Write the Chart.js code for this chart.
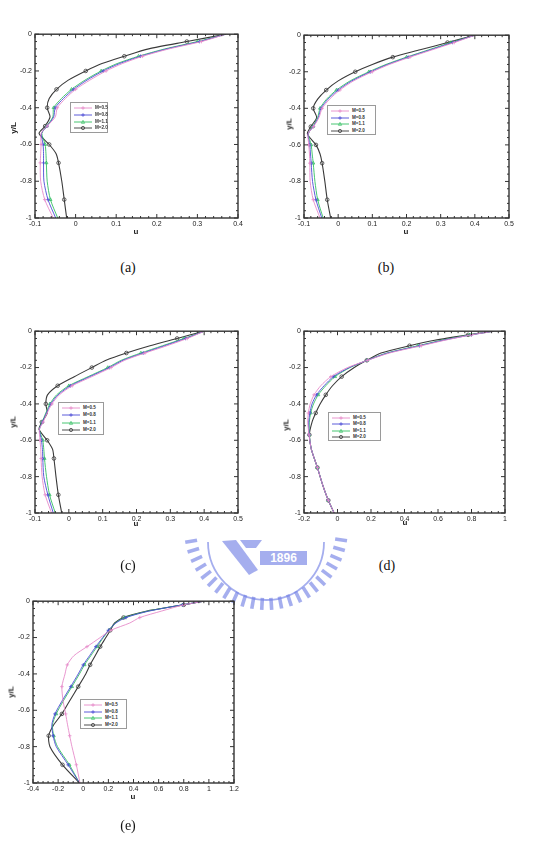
<!DOCTYPE html>
<html>
<head>
<meta charset="utf-8">
<script src="https://cdn.jsdelivr.net/npm/chart.js@4/dist/chart.umd.min.js"></script>
<style>
  body { margin: 0; background: #fff; width: 540px; height: 842px; position: relative; overflow: hidden;
         font-family: "Liberation Sans", Arial, sans-serif; }
  .wrap { position: absolute; }
  .cap { position: absolute; font-family: "Liberation Serif", "Times New Roman", serif; font-size: 14px;
         color: #111; transform: translate(-50%, -50%); }
  .ytl { position: absolute; font-size: 8px; font-weight: bold; color: #222; white-space: nowrap;
         transform: translate(-50%, -50%) rotate(-90deg); }
  .xtl { position: absolute; font-size: 8px; font-weight: bold; color: #222; transform: translate(-50%, -50%); }
  .leg { position: absolute; border: 1px solid #9a9a9a; background: #fff; box-sizing: border-box; }
  .row { position: absolute; left: 0; height: 6px; display: flex; align-items: center; }
  .row span { font-size: 4.6px; font-weight: bold; color: #333; margin-left: 3px; line-height: 6px; }
</style>
</head>
<body>
<svg id="wm" width="540" height="842" style="position:absolute;left:0;top:0"></svg>
<script>
// series shared by all five panels
const seriesNames = ["M=0.5", "M=0.8", "M=1.1", "M=2.0"];
const seriesColors = ["#e68bc9", "#4b4bd6", "#33c062", "#3a3a3a"];
const seriesMarkers = ["cross", "cross", "triangle", "circle"];

// (a), (b), (c) share one y/L grid
const yABC = [0, -0.04, -0.08, -0.12, -0.16, -0.2, -0.25, -0.3, -0.35, -0.4, -0.45, -0.5, -0.54, -0.6, -0.65, -0.7, -0.8, -0.9, -1];

// (a)
const uA05 = [0.37, 0.31, 0.23, 0.165, 0.115, 0.075, 0.035, 0.0, -0.025, -0.045, -0.05, -0.07, -0.085, -0.085, -0.086, -0.087, -0.086, -0.076, -0.055];
const uA08 = [0.37, 0.305, 0.225, 0.16, 0.108, 0.068, 0.028, -0.005, -0.03, -0.05, -0.054, -0.07, -0.084, -0.08, -0.079, -0.079, -0.078, -0.068, -0.049];
const uA11 = [0.37, 0.30, 0.22, 0.155, 0.102, 0.063, 0.023, -0.01, -0.035, -0.054, -0.056, -0.071, -0.083, -0.075, -0.073, -0.072, -0.070, -0.062, -0.044];
const uA20 = [0.37, 0.274, 0.18, 0.12, 0.065, 0.025, -0.018, -0.047, -0.065, -0.07, -0.063, -0.075, -0.09, -0.065, -0.048, -0.042, -0.034, -0.028, -0.022];
const xTicksA = [-0.1, 0, 0.1, 0.2, 0.3, 0.4];

// (b)
const uB05 = [0.40, 0.34, 0.275, 0.21, 0.15, 0.10, 0.045, 0.005, -0.025, -0.047, -0.056, -0.072, -0.088, -0.086, -0.084, -0.083, -0.082, -0.073, -0.053];
const uB08 = [0.40, 0.335, 0.27, 0.205, 0.145, 0.095, 0.04, 0.0, -0.03, -0.05, -0.058, -0.073, -0.088, -0.083, -0.081, -0.079, -0.075, -0.065, -0.048];
const uB11 = [0.40, 0.33, 0.265, 0.20, 0.14, 0.09, 0.035, -0.005, -0.034, -0.053, -0.06, -0.074, -0.087, -0.079, -0.076, -0.073, -0.068, -0.06, -0.044];
const uB20 = [0.40, 0.32, 0.24, 0.16, 0.10, 0.05, 0.0, -0.035, -0.06, -0.073, -0.063, -0.08, -0.09, -0.065, -0.053, -0.047, -0.039, -0.032, -0.022];
const xTicksB = [-0.1, 0, 0.1, 0.2, 0.3, 0.4, 0.5];

// (c)
const uC05 = [0.40, 0.35, 0.29, 0.225, 0.165, 0.125, 0.068, 0.01, -0.028, -0.05, -0.064, -0.076, -0.087, -0.085, -0.083, -0.082, -0.079, -0.07, -0.051];
const uC08 = [0.40, 0.345, 0.283, 0.22, 0.16, 0.12, 0.062, 0.005, -0.032, -0.053, -0.066, -0.078, -0.087, -0.081, -0.078, -0.077, -0.074, -0.062, -0.046];
const uC11 = [0.40, 0.34, 0.277, 0.213, 0.155, 0.115, 0.057, 0.0, -0.036, -0.056, -0.068, -0.079, -0.087, -0.077, -0.074, -0.072, -0.066, -0.057, -0.04];
const uC20 = [0.40, 0.32, 0.24, 0.17, 0.11, 0.068, 0.016, -0.033, -0.063, -0.068, -0.064, -0.08, -0.088, -0.064, -0.048, -0.044, -0.038, -0.031, -0.021];
const xTicksC = [-0.1, 0, 0.1, 0.2, 0.3, 0.4, 0.5];

// (d)
const yD = [0, -0.02, -0.05, -0.08, -0.12, -0.16, -0.2, -0.25, -0.3, -0.35, -0.4, -0.45, -0.5, -0.57, -0.65, -0.75, -0.85, -0.93, -1];
const uD05 = [0.93, 0.80, 0.64, 0.50, 0.31, 0.18, 0.06, -0.04, -0.10, -0.14, -0.163, -0.174, -0.178, -0.17, -0.156, -0.12, -0.087, -0.055, -0.02];
const uD08 = [0.93, 0.80, 0.63, 0.49, 0.30, 0.178, 0.07, -0.025, -0.08, -0.125, -0.152, -0.165, -0.172, -0.169, -0.156, -0.12, -0.087, -0.055, -0.02];
const uD11 = [0.93, 0.79, 0.62, 0.48, 0.295, 0.177, 0.075, -0.015, -0.07, -0.115, -0.143, -0.16, -0.168, -0.168, -0.156, -0.12, -0.087, -0.055, -0.02];
const uD20 = [0.93, 0.78, 0.58, 0.43, 0.26, 0.175, 0.10, 0.025, -0.03, -0.07, -0.104, -0.13, -0.152, -0.168, -0.156, -0.12, -0.087, -0.055, -0.02];
const xTicksD = [-0.2, 0, 0.2, 0.4, 0.6, 0.8, 1];

// (e)
const yE = [0, -0.02, -0.055, -0.09, -0.12, -0.16, -0.2, -0.25, -0.3, -0.35, -0.4, -0.47, -0.55, -0.62, -0.68, -0.74, -0.8, -0.9, -1];
const uE05 = [0.96, 0.80, 0.62, 0.45, 0.37, 0.22, 0.135, 0.03, -0.075, -0.127, -0.145, -0.17, -0.16, -0.14, -0.125, -0.108, -0.09, -0.055, -0.026];
const uE08 = [0.96, 0.79, 0.52, 0.34, 0.26, 0.20, 0.155, 0.10, 0.05, 0.0, -0.04, -0.1, -0.17, -0.225, -0.25, -0.24, -0.215, -0.12, -0.03];
const uE11 = [0.96, 0.79, 0.51, 0.33, 0.255, 0.205, 0.16, 0.11, 0.06, 0.01, -0.03, -0.09, -0.16, -0.215, -0.245, -0.235, -0.205, -0.11, -0.03];
const uE20 = [0.96, 0.80, 0.50, 0.32, 0.25, 0.215, 0.18, 0.135, 0.095, 0.055, 0.02, -0.04, -0.11, -0.17, -0.235, -0.275, -0.265, -0.165, -0.03];
const xTicksE = [-0.4, -0.2, 0, 0.2, 0.4, 0.6, 0.8, 1, 1.2];

const yTicks = [-1, -0.8, -0.6, -0.4, -0.2, 0];

// layout of each panel: plot frame [left, top, right, bottom], legend box, captions, axis titles
const panels = [
  { id: "a", y: yABC, u: [uA05, uA08, uA11, uA20], xt: xTicksA, frame: [35, 33, 238, 218],
    leg: [70, 102, 38, 31], cap: [128, 268], ytl: [13, 128], xtl: [136, 231] },
  { id: "b", y: yABC, u: [uB05, uB08, uB11, uB20], xt: xTicksB, frame: [304, 34, 509, 218],
    leg: [327, 105, 49, 30], cap: [386, 268], ytl: [289, 124], xtl: [406, 231] },
  { id: "c", y: yABC, u: [uC05, uC08, uC11, uC20], xt: xTicksC, frame: [35, 330, 238, 513],
    leg: [58, 402, 46, 33], cap: [128, 566], ytl: [13, 422], xtl: [136, 523] },
  { id: "d", y: yD, u: [uD05, uD08, uD11, uD20], xt: xTicksD, frame: [304, 330, 505, 513],
    leg: [328, 412, 53, 29], cap: [387, 566], ytl: [286, 425], xtl: [405, 522] },
  { id: "e", y: yE, u: [uE05, uE08, uE11, uE20], xt: xTicksE, frame: [33, 600, 234, 783],
    leg: [80, 699, 47, 30], cap: [128, 826], ytl: [11, 692], xtl: [133, 796] }
];

const fmt = v => String(+v.toFixed(2));

// Tecplot-like frame: box plus inward major/minor ticks on all four sides
const frameTicks = {
  id: "frameTicks",
  afterDraw(chart) {
    const { ctx, chartArea: a, scales } = chart;
    ctx.save();
    ctx.strokeStyle = "#333";
    ctx.lineWidth = 1;
    const marks = scale => {
      const vals = scale.ticks.map(t => t.value);
      const out = [];
      vals.forEach((v, i) => {
        out.push([scale.getPixelForValue(v), 4]);
        if (i < vals.length - 1) {
          for (let k = 1; k < 5; k++) out.push([scale.getPixelForValue(v + (vals[i + 1] - v) * k / 5), 2]);
        }
      });
      return out;
    };
    ctx.beginPath();
    marks(scales.x).forEach(([px, len]) => {
      ctx.moveTo(px, a.bottom); ctx.lineTo(px, a.bottom - len);
      ctx.moveTo(px, a.top); ctx.lineTo(px, a.top + len);
    });
    marks(scales.y).forEach(([py, len]) => {
      ctx.moveTo(a.left, py); ctx.lineTo(a.left + len, py);
      ctx.moveTo(a.right, py); ctx.lineTo(a.right - len, py);
    });
    ctx.stroke();
    ctx.lineWidth = 1.4;
    ctx.strokeRect(a.left, a.top, a.right - a.left, a.bottom - a.top);
    ctx.restore();
  }
};

const padL = 26, padR = 10, padT = 6, padB = 14;
const tickFont = { size: 7, family: "'Liberation Sans', Arial, sans-serif" };

function addText(cls, xy, txt) {
  const d = document.createElement("div");
  d.className = cls;
  d.style.left = xy[0] + "px";
  d.style.top = xy[1] + "px";
  d.textContent = txt;
  document.body.appendChild(d);
}

function markerSvg(i) {
  const c = seriesColors[i];
  if (seriesMarkers[i] === "circle") return `<circle cx="9" cy="3" r="1.6" fill="none" stroke="${c}" stroke-width="0.8"/>`;
  if (seriesMarkers[i] === "triangle") return `<path d="M9 1.3 L10.6 4.3 L7.4 4.3 Z" fill="none" stroke="${c}" stroke-width="0.7"/>`;
  return `<path d="M9 1.2 V4.8 M7.2 3 H10.8" stroke="${c}" stroke-width="0.8"/>`;
}

function addLegend(p) {
  const box = document.createElement("div");
  box.className = "leg";
  const [l, t, w, h] = p.leg;
  Object.assign(box.style, { left: l + "px", top: t + "px", width: w + "px", height: h + "px" });
  const step = (h - 4) / 4;
  seriesNames.forEach((name, i) => {
    const r = document.createElement("div");
    r.className = "row";
    r.style.top = (2 + i * step) + "px";
    r.style.left = "3px";
    r.innerHTML = `<svg width="18" height="6"><line x1="0" y1="3" x2="18" y2="3" stroke="${seriesColors[i]}" stroke-width="0.9"/>${markerSvg(i)}</svg><span>${name}</span>`;
    box.appendChild(r);
  });
  document.body.appendChild(box);
}

panels.forEach(p => {
  const [fl, ft, fr, fb] = p.frame;
  const w = fr - fl + padL + padR, h = fb - ft + padT + padB;
  const wrap = document.createElement("div");
  wrap.className = "wrap";
  Object.assign(wrap.style, { left: (fl - padL) + "px", top: (ft - padT) + "px", width: w + "px", height: h + "px" });
  const cv = document.createElement("canvas");
  cv.width = w; cv.height = h;
  cv.style.width = w + "px"; cv.style.height = h + "px";
  wrap.appendChild(cv);
  document.body.appendChild(wrap);

  new Chart(cv, {
    type: "scatter",
    data: {
      datasets: p.u.map((u, i) => ({
        label: seriesNames[i],
        data: u.map((v, k) => ({ x: v, y: p.y[k] })),
        showLine: true,
        tension: 0.25,
        borderColor: seriesColors[i],
        borderWidth: i === 3 ? 1.1 : 0.9,
        pointStyle: seriesMarkers[i],
        pointRadius: ctx => (ctx.dataIndex % 2 === 1 ? 1.8 : 0),
        pointBorderColor: seriesColors[i],
        pointBackgroundColor: "rgba(0,0,0,0)",
        pointBorderWidth: 0.8
      }))
    },
    options: {
      responsive: false,
      animation: false,
      events: [],
      layout: { padding: { left: 0, right: padR, top: padT, bottom: 0 } },
      plugins: { legend: { display: false }, tooltip: { enabled: false } },
      scales: {
        x: {
          type: "linear",
          min: p.xt[0], max: p.xt[p.xt.length - 1],
          afterBuildTicks: s => { s.ticks = p.xt.map(v => ({ value: v })); },
          afterFit: s => { s.height = padB; },
          grid: { display: false, drawTicks: false },
          border: { display: false },
          ticks: { font: tickFont, color: "#222", padding: 2, maxRotation: 0, callback: v => fmt(v) }
        },
        y: {
          type: "linear",
          min: -1, max: 0,
          afterBuildTicks: s => { s.ticks = yTicks.map(v => ({ value: v })); },
          afterFit: s => { s.width = padL; },
          grid: { display: false, drawTicks: false },
          border: { display: false },
          ticks: { font: tickFont, color: "#222", padding: 3, callback: v => fmt(v) }
        }
      }
    },
    plugins: [frameTicks]
  });

  addLegend(p);
  addText("cap", p.cap, "(" + p.id + ")");
  addText("ytl", p.ytl, "y/L");
  addText("xtl", p.xtl, "u");
});

// faint university emblem behind the middle row
(function () {
  const svg = document.getElementById("wm");
  const col = "rgba(110,125,228,0.62)";
  const cx = 266, cy = 528;
  let s = "";
  for (let a = 9; a <= 171; a += 7) {
    const r = a * Math.PI / 180;
    s += `<line x1="${cx + 70 * Math.cos(r)}" y1="${cy + 70 * Math.sin(r)}" x2="${cx + 82 * Math.cos(r)}" y2="${cy + 82 * Math.sin(r)}" stroke="${col}" stroke-width="3.6"/>`;
  }
  s += `<path d="M ${cx - 58} ${cy + 14} A 58 58 0 0 0 ${cx + 58} ${cy + 14}" fill="none" stroke="${col}" stroke-width="1.8"/>`;
  s += `<path d="M 222 541 L 236 540 L 258 570 L 249 575 Z" fill="${col}"/>`;
  s += `<path d="M 240 540 L 262 540 L 256 548 L 246 548 Z" fill="${col}"/>`;
  s += `<rect x="260" y="551" width="47" height="14" fill="${col}"/>`;
  s += `<text x="283.5" y="562" text-anchor="middle" font-family="Liberation Sans, Arial" font-weight="bold" font-size="12" fill="#fff">1896</text>`;
  svg.innerHTML = s;
})();
</script>
</body>
</html>
